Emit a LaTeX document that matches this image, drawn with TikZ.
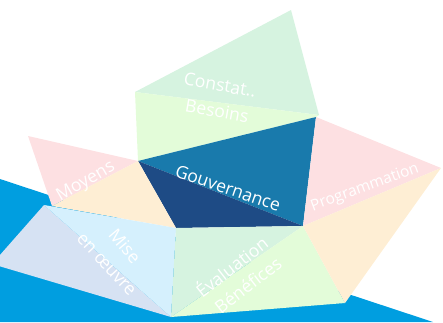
\documentclass[tikz,border=0pt]{standalone}
\usepackage{fontspec}
\setmainfont{Open Sans}
\usepackage{tikz}
\definecolor{sea}{RGB}{0,158,224}
\definecolor{mint}{RGB}{214,243,224}
\definecolor{lime}{RGB}{227,252,217}
\definecolor{govlight}{RGB}{25,122,172}
\definecolor{govdark}{RGB}{30,75,133}
\definecolor{rose}{RGB}{253,224,226}
\definecolor{peach}{RGB}{254,238,212}
\definecolor{sky}{RGB}{213,240,253}
\definecolor{lavender}{RGB}{214,226,243}

\begin{document}
\begin{tikzpicture}[x=1pt,y=-1pt, face/.style={fill=#1,draw=none},
  lbl/.style={text=white,inner sep=0pt,font=\fontsize{17.6}{17.6}\selectfont}]

\useasboundingbox (0,0) rectangle (443,322);
\clip (0,0) rectangle (443,322);

% water
\fill[sea] (0,179) -- (433,322) -- (0,322) -- cycle;

% corners of the pieces
\coordinate (apex) at (291,10);
\coordinate (ctl) at (135,92);
\coordinate (ctr) at (319,115);
\coordinate (gtl) at (138,161);
\coordinate (gtr) at (316,117);
\coordinate (gbr) at (303,226);
\coordinate (gbl) at (176,228);
\coordinate (mtl) at (28,136);
\coordinate (mbl) at (52,206);
\coordinate (wtl) at (44,205);
\coordinate (wl) at (-8,264);
\coordinate (bot) at (171,317);
\coordinate (pr) at (441,168);
\coordinate (pb) at (345,303);

\fill[face=mint] (ctl) -- (apex) -- (ctr) -- cycle;
\fill[face=lime] (ctl) -- (ctr) -- (gtr) -- (gtl) -- cycle;
\fill[face=govlight] (gtl) -- (gtr) -- (gbr) -- cycle;
\fill[face=govdark] (gtl) -- (gbr) -- (gbl) -- cycle;
\fill[face=rose] (mtl) -- (gtl) -- (mbl) -- cycle;
\fill[face=peach] (gtl) -- (mbl) -- (gbl) -- cycle;
\fill[face=lavender] (wtl) -- (wl) -- (bot) -- cycle;
\fill[face=sky] (wtl) -- (gbl) -- (bot) -- cycle;
\fill[face=mint] (gbl) -- (gbr) -- (bot) -- cycle;
\fill[face=lime] (gbr) -- (pb) -- (bot) -- cycle;
\fill[face=rose] (gtr) -- (pr) -- (gbr) -- cycle;
\fill[face=peach] (gbr) -- (pr) -- (pb) -- cycle;

\node[lbl,rotate=-10] (constat) at (220,85) {Constat..};
\node[lbl,rotate=-10] (besoins) at (217,111) {Besoins};
\node[lbl,rotate=-19] (gouv) at (228,188) {Gouvernance};
\node[lbl,rotate=20,font=\fontsize{15.5}{15.5}\selectfont] (prog) at (365,188) {Programmation};
\node[lbl,rotate=30] (moyens) at (86,182) {Moyens};
\node[lbl,rotate=-50] (mise) at (125,246) {Mise};
\node[lbl,rotate=-47] (oeuvre) at (106,265) {en œuvre};
\node[lbl,rotate=38] (eval) at (231,266) {Évaluation};
\node[lbl,rotate=38] (benef) at (248,285) {Bénéfices};
\end{tikzpicture}
\end{document}
